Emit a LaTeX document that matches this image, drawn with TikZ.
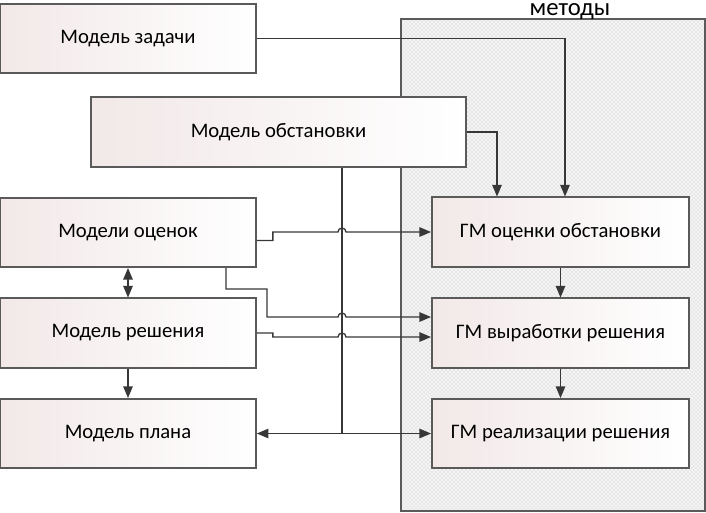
\documentclass[tikz,border=0pt]{standalone}
\usepackage{fontspec}
\setmainfont{Carlito}
\usepackage{tikz}
\usetikzlibrary{calc}
\usetikzlibrary{arrows}
\usetikzlibrary{patterns}
\definecolor{boxpink}{RGB}{242,232,232}
\definecolor{boxline}{RGB}{90,90,90}
\definecolor{wire}{RGB}{55,55,55}
\tikzset{
  modelbox/.style = {draw=boxline, line width=1.3pt, left color=boxpink, middle color=white, right color=white,
                     minimum height=52pt, inner sep=0pt, font=\fontsize{15.5}{18}\selectfont},
  wire/.style = {draw=wire, line width=1pt},
}

\begin{document}
\begin{tikzpicture} [x=.75pt, y=-.75pt, >=triangle 45]
\useasboundingbox (0,0) rectangle (706,512);
% methods panel
\fill[gray!9] (401,19) rectangle (705,511);
\fill[pattern=crosshatch dots, pattern color=gray!50] (401,19) rectangle (705,511);
\draw[boxline, line width=1pt] (401,19) rectangle (705,511);
\node[anchor=base, inner sep=0pt, font=\fontsize{18.5}{20}\selectfont] (metody) at (570,15.5) {методы};

% models
\node[modelbox, minimum width=192pt] (zad) at (128,38.5) {Модель задачи};
\node[modelbox, minimum width=281pt] (obs) at (278.5,132) {Модель обстановки};
\node[modelbox, minimum width=192pt] (ocen) at (128,232.5) {Модели оценок};
\node[modelbox, minimum width=192pt] (resh) at (128,333) {Модель решения};
\node[modelbox, minimum width=192pt] (plan) at (128,433.5) {Модель плана};

% generating methods
\node[modelbox, minimum width=193pt] (gmo) at (560.5,232) {ГМ оценки обстановки};
\node[modelbox, minimum width=193pt] (gmv) at (560.5,333) {ГМ выработки решения};
\node[modelbox, minimum width=193pt] (gmr) at (560.5,433.5) {ГМ реализации решения};

\coordinate (bus) at (342,0);

% links
\draw[wire,->] (zad.east) -| ($(gmo.north)+(4.5,0)$);
\draw[wire,->] (obs.east) -| ($(gmo.north)+(-63.5,0)$);
\draw[wire] (bus |- obs.south) -- (bus |- plan.east);
\draw[wire,<->] (plan) -- (gmr);
\draw[wire,->] ($(ocen.east)+(0,8)$) -- ++(16,0) |- ($(bus |- gmo.west)+(-4,0)$) arc (180:0:3pt) -- (gmo.west);
\draw[wire,->] ($(ocen.south)+(98,0)$) -- ++(0,21) -- ++(41,0) |- ($(bus |- gmv.west)+(-4,-16)$) arc (180:0:3pt) -- ($(gmv.west)+(0,-16)$);
\draw[wire,->] (resh.east) -- ++(16,0) -- ++(0,4) -- ($(bus |- gmv.west)+(-4,4)$) arc (180:0:3pt) -- ($(gmv.west)+(0,4)$);
\draw[wire,<->] (ocen) -- (resh);
\draw[wire,->] (resh) -- (plan);
\draw[wire,->] (gmo) -- (gmv);
\draw[wire,->] (gmv) -- (gmr);
\end{tikzpicture}
\end{document}
